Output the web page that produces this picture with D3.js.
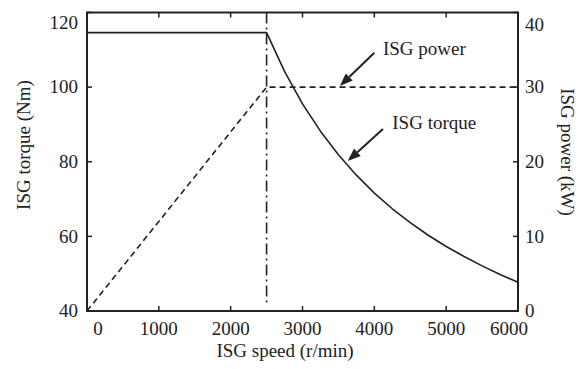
<!DOCTYPE html>
<html>
<head>
<meta charset="utf-8">
<script src="https://cdn.jsdelivr.net/npm/d3@7.9.0/dist/d3.min.js"></script>
<style>
  body { margin: 0; background: #fff; }
  svg text { font-family: "Liberation Serif", "Times New Roman", serif; fill: #222; }
</style>
</head>
<body>
<svg width="580" height="369"></svg>
<script>
// data
const speeds = [0, 2500, 2750, 3000, 3250, 3500, 3750, 4000, 4250, 4500, 4750, 5000, 5250, 5500, 5750, 6000];
const torque = [114.6, 114.6, 104.2, 95.5, 88.2, 81.9, 76.4, 71.6, 67.4, 63.7, 60.3, 57.3, 54.6, 52.1, 49.8, 47.7];
const powerSpeeds = [0, 2500, 6000];
const power = [0, 30, 30];
const baseSpeed = 2500;

const xTicks = [0, 1000, 2000, 3000, 4000, 5000, 6000];
const torqueTicks = [40, 60, 80, 100, 120];
const powerTicks = [0, 10, 20, 30, 40];

const svg = d3.select("svg");
const m = { left: 87, right: 518, top: 12.5, bottom: 311 };
const fs = 19;

let x = d3.scaleLinear().domain([0, 6000]).range([m.left, m.right]);
let yT = d3.scaleLinear().domain([40, 120]).range([m.bottom, m.top]);
let yP = d3.scaleLinear().domain([0, 40]).range([m.bottom, m.top]);

const ink = "#222";

// curves
let torqueLine = d3.line().x((d, i) => x(speeds[i])).y(d => yT(d));
svg.append("path")
    .attr("d", torqueLine(torque))
    .attr("fill", "none").attr("stroke", ink).attr("stroke-width", 1.6)
    .attr("stroke-linejoin", "round");

let powerLine = d3.line().x((d, i) => x(powerSpeeds[i])).y(d => yP(d));
svg.append("path")
    .attr("d", powerLine(power))
    .attr("fill", "none").attr("stroke", ink).attr("stroke-width", 1.6)
    .attr("stroke-dasharray", "6,4");

// base speed marker
svg.append("line")
    .attr("x1", x(baseSpeed)).attr("x2", x(baseSpeed))
    .attr("y1", m.top).attr("y2", m.bottom - 8)
    .attr("stroke", ink).attr("stroke-width", 1.6)
    .attr("stroke-dasharray", "11,4,2,4");

// frame
svg.append("rect")
    .attr("x", m.left).attr("y", m.top)
    .attr("width", m.right - m.left).attr("height", m.bottom - m.top)
    .attr("fill", "none").attr("stroke", ink).attr("stroke-width", 2);

const tl = 5;
// bottom / top ticks
xTicks.forEach((t, i) => {
    svg.append("line").attr("x1", x(t)).attr("x2", x(t))
        .attr("y1", m.bottom).attr("y2", m.bottom - tl)
        .attr("stroke", ink).attr("stroke-width", 1.5);
    svg.append("line").attr("x1", x(t)).attr("x2", x(t))
        .attr("y1", m.top).attr("y2", m.top + tl)
        .attr("stroke", ink).attr("stroke-width", 1.5);
    let tx = x(t);
    if (i === 0) tx += 11;
    if (i === xTicks.length - 1) tx -= 9;
    svg.append("text").attr("x", tx).attr("y", 335)
        .attr("text-anchor", "middle").attr("font-size", fs)
        .text(t);
});

// left ticks
torqueTicks.forEach((t, i) => {
    svg.append("line").attr("x1", m.left).attr("x2", m.left + tl)
        .attr("y1", yT(t)).attr("y2", yT(t))
        .attr("stroke", ink).attr("stroke-width", 1.5);
    let ty = yT(t);
    if (i === torqueTicks.length - 1) ty += 10;
    svg.append("text").attr("x", 78).attr("y", ty)
        .attr("dy", "0.33em").attr("text-anchor", "end").attr("font-size", fs)
        .text(t);
});

// right ticks
powerTicks.forEach((t, i) => {
    svg.append("line").attr("x1", m.right).attr("x2", m.right - tl)
        .attr("y1", yP(t)).attr("y2", yP(t))
        .attr("stroke", ink).attr("stroke-width", 1.5);
    let ty = yP(t);
    if (i === powerTicks.length - 1) ty += 12;
    svg.append("text").attr("x", 525).attr("y", ty)
        .attr("dy", "0.33em").attr("text-anchor", "start").attr("font-size", fs)
        .text(t);
});

// axis titles
svg.append("text").attr("x", 285).attr("y", 357)
    .attr("text-anchor", "middle").attr("font-size", fs)
    .text("ISG speed (r/min)");
svg.append("text")
    .attr("transform", "translate(30,145) rotate(-90)")
    .attr("text-anchor", "middle").attr("font-size", fs)
    .text("ISG torque (Nm)");
svg.append("text")
    .attr("transform", "translate(561,152) rotate(90)")
    .attr("text-anchor", "middle").attr("font-size", fs)
    .text("ISG power (kW)");

// annotations
function arrow(x1, y1, x2, y2) {
    let ang = Math.atan2(y2 - y1, x2 - x1);
    let hl = 13, hw = 5;
    let bx = x2 - hl * Math.cos(ang), by = y2 - hl * Math.sin(ang);
    svg.append("line").attr("x1", x1).attr("y1", y1).attr("x2", bx).attr("y2", by)
        .attr("stroke", ink).attr("stroke-width", 2);
    let px = -Math.sin(ang) * hw, py = Math.cos(ang) * hw;
    svg.append("path")
        .attr("d", `M${x2},${y2}L${bx + px},${by + py}L${bx - px},${by - py}Z`)
        .attr("fill", ink);
}
arrow(x(4000), yP(34.6), x(3520), yP(30.15));
svg.append("text").attr("x", x(4120)).attr("y", yP(35.1))
    .attr("dy", "0.33em").attr("font-size", fs).text("ISG power");

arrow(x(4120), yT(88.8), x(3630), yT(80.2));
svg.append("text").attr("x", x(4250)).attr("y", yT(90.4))
    .attr("dy", "0.33em").attr("font-size", fs).text("ISG torque");
</script>
</body>
</html>
